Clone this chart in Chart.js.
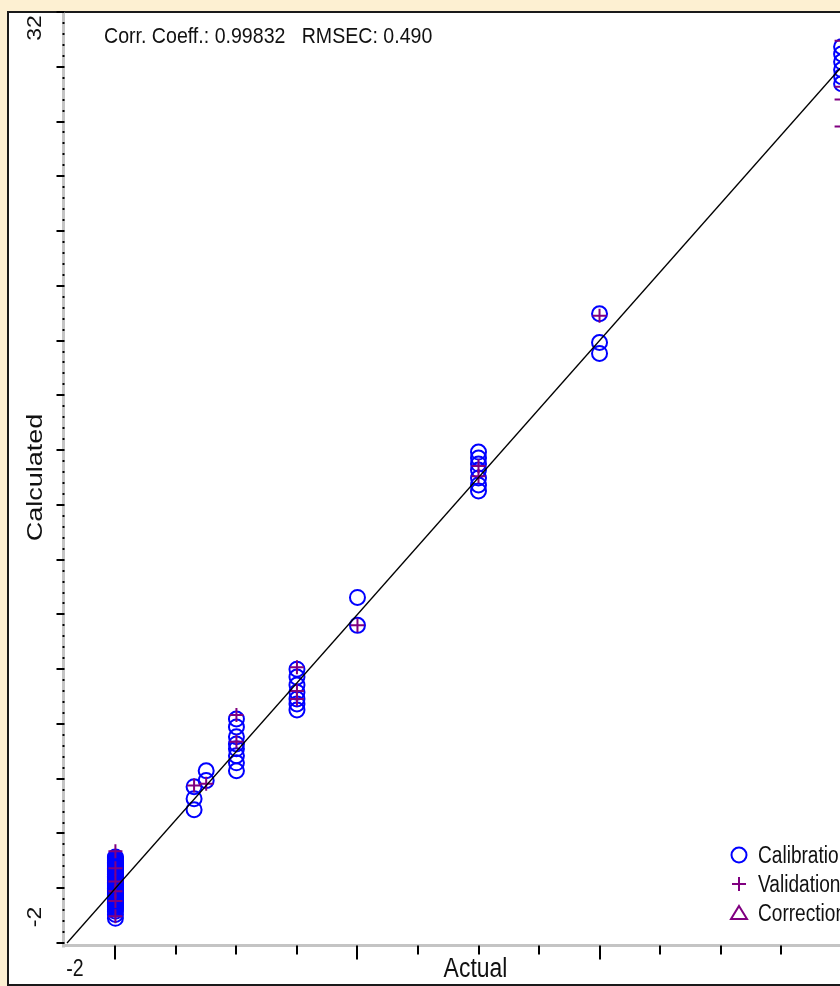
<!DOCTYPE html>
<html>
<head>
<meta charset="utf-8">
<script src="https://cdn.jsdelivr.net/npm/chart.js@4/dist/chart.umd.min.js"></script>
<style>
  html, body { margin: 0; padding: 0; overflow: hidden; background: #FDF0D2; }
  #wrap { width: 840px; height: 986px; overflow: hidden; position: relative; }
  canvas { display: block; }
</style>
</head>
<body>
<div id="wrap"><canvas id="c" width="940" height="986"></canvas></div>
<script>
// Calibration samples: actual concentration and calculated value
const calibrationActual = [
  0, 0, 0, 0, 0, 0, 0, 0, 0, 0, 0, 0, 0, 0, 0, 0, 0, 0, 0, 0, 0, 0, 0, 0, 0, 0, 0, 0,
  0, 0, 0, 0, 0, 0, 0, 0, 0, 0, 0, 0, 0, 0, 0, 0, 0, 0, 0, 0, 0, 0, 0, 0, 0, 0, 0, 0,
  0, 0, 0, 0, 0, 0, 0,
  3.25, 3.25, 3.25, 3.75, 3.75,
  5, 5, 5, 5, 5, 5, 5, 5,
  7.5, 7.5, 7.5, 7.5, 7.5, 7.5, 7.5,
  10, 10,
  15, 15, 15, 15, 15, 15, 15,
  20, 20, 20,
  30, 30, 30, 30, 30, 30
];
const calibrationCalculated = [
  1.14, 1.11, 1.08, 1.05, 1.02, 0.98, 0.95, 0.92, 0.89, 0.86, 0.83, 0.79, 0.76, 0.73,
  0.70, 0.67, 0.63, 0.60, 0.57, 0.54, 0.51, 0.48, 0.44, 0.41, 0.38, 0.35, 0.32, 0.29,
  0.25, 0.22, 0.19, 0.16, 0.13, 0.10, 0.06, 0.03, 0.00, -0.03, -0.06, -0.10, -0.13, -0.16,
  -0.19, -0.22, -0.26, -0.29, -0.32, -0.35, -0.38, -0.41, -0.45, -0.48, -0.51, -0.54, -0.57, -0.61,
  -0.64, -0.68, -0.72, -0.77, -0.84, -0.96, -1.10,
  3.71, 3.27, 2.87, 4.29, 3.93,
  6.18, 5.89, 5.53, 5.27, 5.09, 4.84, 4.58, 4.29,
  8.00, 7.71, 7.42, 7.16, 6.91, 6.73, 6.51,
  10.62, 9.60,
  15.93, 15.71, 15.49, 15.27, 14.98, 14.73, 14.51,
  20.98, 19.93, 19.53,
  30.73, 30.47, 30.18, 29.89, 29.64, 29.38
];

// Validation samples
const validationActual = [
  0, 0, 0, 0, 0, 0,
  3.25, 3.75,
  5, 5,
  7.5, 7.5, 7.5,
  10,
  15, 15,
  20,
  30, 30, 30, 30
];
const validationCalculated = [
  1.35, 0.73, 0.25, -0.11, -0.47, -1.02,
  3.75, 3.82,
  6.33, 5.35,
  8.07, 7.20, 6.91,
  9.60,
  15.42, 15.05,
  20.91,
  30.95, 29.27, 28.80, 27.82
];

// Correction samples (none in this model)
const correctionActual = [];
const correctionCalculated = [];

// Ideal fit line endpoints and axis range
const fitLine = [-2, 32];
const axisMin = -2;
const axisMax = 32;

// Tick layout
const xTickStep = 2.5, xMajorStep = 10;
const yTickStep = 0.4, yMajorStep = 2;
const xTickLabels = ['-2', '32'];
const yTickLabels = ['-2', '32'];
const xTitle = 'Actual';
const yTitle = 'Calculated';
const statsText = 'Corr. Coeff.: 0.99832   RMSEC: 0.490';

const legendLabels = ['Calibration', 'Validation', 'Correction'];

function pairs(xs, ys) {
  return xs.map((x, i) => ({ x: x, y: ys[i] }));
}

const BLUE = '#0000FF';
const PURPLE = '#800080';
const FONT = '"Liberation Sans", Arial, sans-serif';

function drawText(ctx, text, x, y, size, align, sx) {
  ctx.save();
  ctx.translate(x, y);
  ctx.scale(sx, 1);
  ctx.font = size + 'px ' + FONT;
  ctx.textAlign = align;
  ctx.textBaseline = 'middle';
  ctx.fillStyle = '#111';
  ctx.fillText(text, 0, 0);
  ctx.restore();
}

function drawRotText(ctx, text, x, y, size, sy) {
  ctx.save();
  ctx.translate(x, y);
  ctx.rotate(-Math.PI / 2);
  ctx.scale(1, sy);
  ctx.font = size + 'px ' + FONT;
  ctx.textAlign = 'center';
  ctx.textBaseline = 'middle';
  ctx.fillStyle = '#111';
  ctx.fillText(text, 0, 0);
  ctx.restore();
}

// Window frame behind the plot
const framePlugin = {
  id: 'frame',
  beforeDraw(chart) {
    const ctx = chart.ctx;
    ctx.save();
    ctx.fillStyle = '#FDF0D2';
    ctx.fillRect(0, 0, chart.width, chart.height);
    ctx.fillStyle = '#FFFFFF';
    ctx.fillRect(9, 13, chart.width, 971);
    ctx.strokeStyle = '#1a1a1a';
    ctx.lineWidth = 2;
    ctx.beginPath();
    ctx.moveTo(chart.width + 5, 12);
    ctx.lineTo(8, 12);
    ctx.lineTo(8, 985);
    ctx.lineTo(chart.width + 5, 985);
    ctx.stroke();
    ctx.restore();
  }
};

// Axes, ticks and labels
const axesPlugin = {
  id: 'axes',
  beforeDatasetsDraw(chart) {
    const ctx = chart.ctx;
    const xs = chart.scales.x, ys = chart.scales.y;
    const ax = xs.getPixelForValue(axisMin) - 3.5;
    const ay = ys.getPixelForValue(axisMin) + 2.5;
    ctx.save();
    // grey axis bars
    ctx.fillStyle = '#C4C4C4';
    ctx.fillRect(ax - 1.5, ys.getPixelForValue(axisMax), 3, ay - ys.getPixelForValue(axisMax) + 2);
    ctx.fillRect(ax - 1.5, ay - 1.5, xs.getPixelForValue(axisMax) - ax + 10, 3);
    ctx.fillStyle = '#000';
    // y ticks
    const nY = Math.round((axisMax - axisMin) / yTickStep);
    for (let i = 0; i <= nY; i++) {
      const v = axisMin + i * yTickStep;
      const py = Math.round(ys.getPixelForValue(v));
      const isMajor = Math.abs((v - axisMin) / yMajorStep - Math.round((v - axisMin) / yMajorStep)) < 1e-6;
      if (isMajor) {
        ctx.fillRect(ax - 7, py - 1, 8, 2);
      } else {
        ctx.fillRect(ax - 1, py - 1, 2, 2);
      }
    }
    // x ticks
    for (let v = 0; v <= axisMax + 1e-6; v += xTickStep) {
      const px = Math.round(xs.getPixelForValue(v));
      const isMajor = Math.abs(v / xMajorStep - Math.round(v / xMajorStep)) < 1e-6;
      ctx.fillRect(px - 1, ay, 2, isMajor ? 14 : 9);
    }
    ctx.restore();

    // tick labels at the range ends
    drawText(ctx, xTickLabels[0], xs.getPixelForValue(axisMin) + 8, 970, 23, 'center', 0.85);
    drawText(ctx, xTickLabels[1], xs.getPixelForValue(axisMax) - 10, 970, 23, 'center', 0.85);
    drawRotText(ctx, yTickLabels[0], 36, ys.getPixelForValue(axisMin) - 26, 23, 0.85);
    drawRotText(ctx, yTickLabels[1], 36, ys.getPixelForValue(axisMax) + 16, 23, 0.85);
    // axis titles
    drawText(ctx, xTitle, (xs.left + xs.right) / 2 - 3, 970, 27, 'center', 0.85);
    drawRotText(ctx, yTitle, 36, (ys.top + ys.bottom) / 2, 27, 0.85);
  },
  afterDraw(chart) {
    const ctx = chart.ctx;
    // statistics line
    drawText(ctx, statsText, 104, 37, 22, 'left', 0.89);
    // legend in the lower right corner, in the order of legendLabels
    legendLabels.forEach((name, i) => {
      const d = chart.data.datasets.find(s => s.label === name);
      const cx = 739, cy = 855 + i * 29;
      ctx.save();
      ctx.strokeStyle = d.borderColor;
      ctx.lineWidth = 2;
      ctx.beginPath();
      if (d.pointStyle === 'circle') {
        ctx.arc(cx, cy, 7.5, 0, Math.PI * 2);
      } else if (d.pointStyle === 'cross') {
        ctx.moveTo(cx - 7, cy); ctx.lineTo(cx + 7, cy);
        ctx.moveTo(cx, cy - 7); ctx.lineTo(cx, cy + 7);
      } else if (d.pointStyle === 'triangle') {
        ctx.moveTo(cx, cy - 7); ctx.lineTo(cx + 8, cy + 6); ctx.lineTo(cx - 8, cy + 6); ctx.closePath();
      }
      ctx.stroke();
      ctx.restore();
      drawText(ctx, d.label, 758, cy + 2, 23, 'left', 0.83);
    });
  }
};

new Chart(document.getElementById('c'), {
  type: 'scatter',
  data: {
    datasets: [
      {
        type: 'line',
        label: 'Fit',
        data: pairs(fitLine, fitLine),
        borderColor: '#000000',
        borderWidth: 1.3,
        pointRadius: 0,
        order: 0,
        clip: false
      },
      {
        label: legendLabels[1],
        data: pairs(validationActual, validationCalculated),
        pointStyle: 'cross',
        pointRadius: 7,
        borderColor: PURPLE,
        backgroundColor: PURPLE,
        borderWidth: 2,
        order: 1,
        clip: false
      },
      {
        label: legendLabels[0],
        data: pairs(calibrationActual, calibrationCalculated),
        pointStyle: 'circle',
        pointRadius: 7.5,
        borderColor: BLUE,
        backgroundColor: 'rgba(0,0,0,0)',
        borderWidth: 2,
        order: 2,
        clip: false
      },
      {
        label: legendLabels[2],
        data: pairs(correctionActual, correctionCalculated),
        pointStyle: 'triangle',
        pointRadius: 7,
        borderColor: PURPLE,
        backgroundColor: 'rgba(0,0,0,0)',
        borderWidth: 2,
        order: 3,
        clip: false
      }
    ]
  },
  options: {
    responsive: false,
    animation: false,
    events: [],
    layout: { padding: { left: 67, right: 50, top: 12, bottom: 43 } },
    plugins: { legend: { display: false }, tooltip: { enabled: false } },
    scales: {
      x: { type: 'linear', min: axisMin, max: axisMax, display: false },
      y: { type: 'linear', min: axisMin, max: axisMax, display: false }
    }
  },
  plugins: [framePlugin, axesPlugin]
});
</script>
</body>
</html>
